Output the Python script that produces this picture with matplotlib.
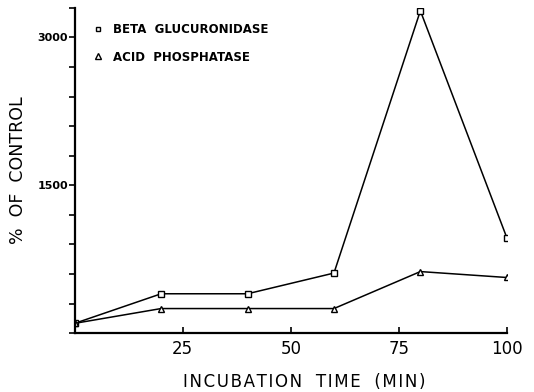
import matplotlib
matplotlib.use("Agg")
import matplotlib.pyplot as plt
from matplotlib.lines import Line2D
from matplotlib.ticker import MultipleLocator

# incubation time (min)
tiempo = [0, 20, 40, 60, 80, 100]
# % of control
beta_glucuronidasa = [100, 400, 400, 610, 3270, 970]
fosfatasa_acida = [100, 250, 250, 250, 625, 565]

nombres = ["BETA  GLUCURONIDASE", "ACID  PHOSPHATASE"]
xticks = [25, 50, 75, 100]
yticks = [1500, 3000]

fig = plt.figure(figsize=(5.34, 3.92), dpi=100)
ax = fig.add_axes([0.140, 0.150, 0.809, 0.830])

ax.plot(tiempo, beta_glucuronidasa, color="black", lw=1.1, marker="s",
        ms=4, mfc="white", mec="black", mew=1.0)
ax.plot(tiempo, fosfatasa_acida, color="black", lw=1.1, marker="^",
        ms=4.5, mfc="white", mec="black", mew=1.0)

ax.set_xlim(0, 100)
ax.set_ylim(0, 3300)
ax.spines["top"].set_visible(False)
ax.spines["right"].set_visible(False)
ax.spines["left"].set_linewidth(1.6)
ax.spines["bottom"].set_linewidth(1.6)

ax.set_xticks(xticks)
ax.set_xticklabels([str(t) for t in xticks], fontsize=12)
ax.set_yticks(yticks)
ax.set_yticklabels([str(t) for t in yticks], fontsize=8, fontweight="bold")
ax.yaxis.set_minor_locator(MultipleLocator(300))
ax.tick_params(axis="x", direction="in", length=4, width=1.2, pad=5)
ax.tick_params(axis="y", which="both", direction="out", length=4, width=1.2, pad=1)

etiqueta_x = "\u200a".join("INCUBATION TIME (MIN)").replace(" ", "  ")
ax.set_xlabel(etiqueta_x, fontsize=12)
ax.xaxis.set_label_coords(0.532, -0.123)
ax.set_ylabel("%  OF  CONTROL", fontsize=12.5)
ax.yaxis.set_label_coords(-0.11, 0.5)

handles = [
    Line2D([], [], ls="none", marker="s", ms=3.5, mfc="white", mec="black", mew=1.0),
    Line2D([], [], ls="none", marker="^", ms=4, mfc="white", mec="black", mew=1.0),
]
leg = ax.legend(handles, nombres, loc="upper left", bbox_to_anchor=(0.018, 0.985),
                frameon=False, handlelength=0.8, handletextpad=0.9,
                labelspacing=1.2, prop={"size": 8.5, "weight": "bold"})

fig.savefig("out.png", dpi=100)
